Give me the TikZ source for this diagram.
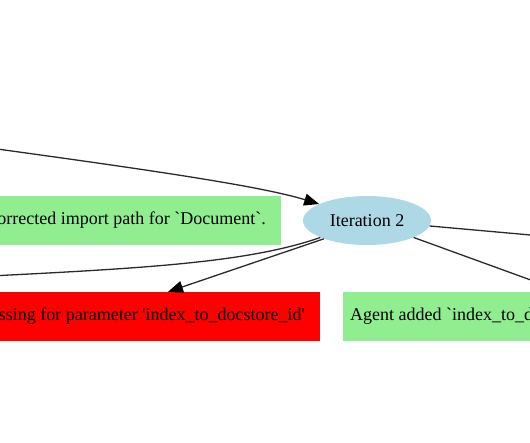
\documentclass[tikz,border=0pt]{standalone}
\usepackage{fontspec}
\setmainfont{Liberation Serif}
\usetikzlibrary{shapes.geometric,arrows.meta,calc}
\definecolor{lgreen}{HTML}{90EE90}
\definecolor{lblue}{HTML}{ADD8E6}
\definecolor{gvred}{HTML}{FF0000}
\definecolor{edgec}{HTML}{2A2A2A}
\tikzset{
  lbl/.style={font=\fontsize{18}{21}\selectfont, text=black},
  gbox/.style={lbl, rectangle, fill=lgreen, minimum height=49pt, inner ysep=0pt},
  rbox/.style={lbl, rectangle, fill=gvred, minimum height=49pt, inner ysep=0pt},
  iter/.style={lbl, ellipse, fill=lblue, minimum width=128pt, minimum height=49pt, inner sep=0pt},
  edge/.style={draw=edgec, line width=1.3pt},
  arr/.style={edge, -{Triangle[length=15pt,width=12pt,fill=black,color=black]}}
}
\begin{document}
\begin{tikzpicture}[x=1pt,y=-1pt]
\path[use as bounding box] (0,0) rectangle (530,442);
\clip (0,0) rectangle (530,442);
\node[gbox, anchor=east, inner xsep=15pt] (g1) at (281,220.5) {orrected import path for \textasciigrave Document\textasciigrave.};
\node[rbox, anchor=east, inner xsep=15pt] (red) at (320,316.5) {ssing for parameter \textquotesingle index\_to\_docstore\_id\textquotesingle};
\node[gbox, anchor=west, inner xsep=7pt] (g2) at (343,316.5) {Agent added \textasciigrave index\_to\_docstore\_id\textasciigrave};
\node[iter] (it2) at (367,220.5) {Iteration 2};
\coordinate (inL) at (-10,148);
\coordinate (outL) at (-10,276);
\coordinate (outR1) at (545,236.3);
\coordinate (outR2) at (550,287);
\coordinate (rtx) at (168,0);
\draw[arr] (inL) .. controls (150,170) and (260,186) .. (it2.161);
\draw[edge] (it2.200) .. controls (250,262) and (150,268) .. (outL);
\draw[arr] (it2.203) -- (red.north -| rtx);
\draw[edge] (it2.355) -- (outR1);
\draw[edge] (it2.340) -- (outR2);
\end{tikzpicture}
\end{document}
